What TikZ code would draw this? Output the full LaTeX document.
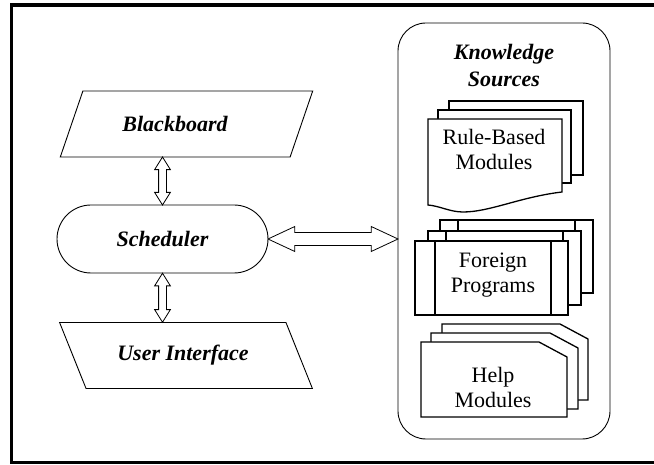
\documentclass[tikz,border=0pt]{standalone}
\usepackage{fontspec}
\setmainfont{Liberation Serif}
\usetikzlibrary{shapes.geometric,shapes.misc,shapes.arrows,calc}

\tikzset{
  flow/.style={draw, line width=0.9pt, font=\bfseries\itshape\fontsize{22}{25}\selectfont},
  slant/.style={flow, trapezium, trapezium stretches=true, minimum width=253pt, minimum height=66pt, inner sep=0pt},
  link/.style={draw, fill=white, line width=0.8pt, double arrow},
  page/.style={draw, fill=white, line width=1.3pt},
  modtext/.style={align=center, font=\fontsize{22}{25}\selectfont}
}

\begin{document}
\begin{tikzpicture}[x=1pt,y=-1pt]
\useasboundingbox (0,0) rectangle (654,465);
\draw[line width=3.5pt] (660,5) -| (11.7,462.5) -- (660,462.5);

% left column
\node[slant, trapezium left angle=48, trapezium right angle=132] (bb) at (186.5,124) {Blackboard\kern23pt};
\node[flow, rounded rectangle, minimum width=211pt, minimum height=68pt, inner sep=0pt] (sch) at (162.5,239) {Scheduler};
\node[slant, trapezium left angle=132, trapezium right angle=48] (ui) at (186,355.5) {User Interface\kern6pt};

% knowledge sources
\node[draw, line width=0.9pt, rounded corners=28pt, minimum width=212pt, minimum height=416pt,
  label={[anchor=north, yshift=-18pt, align=center, font=\bfseries\itshape\fontsize{22}{27}\selectfont]north:Knowledge\\Sources}] (ks) at (504,231) {};

% rule-based modules
\draw[page] (449,101) rectangle (583,175);
\draw[page] (438,110) rectangle (571,183);
\draw[page] (428,119) -- (562,119) -- (562,192) .. controls (520,197) and (490,212) .. (463,212)
  .. controls (450,212) and (440,206) .. (428,205) -- cycle;
\node[modtext] (rbm) at (494,149) {Rule-Based\\Modules};

% foreign programs
\draw[page] (440,220) rectangle (593,293) (458,220) -- (458,293) (575,220) -- (575,293);
\draw[page] (428,231) rectangle (581,305) (446,231) -- (446,305) (563,231) -- (563,305);
\draw[page] (415,241) rectangle (568,315) (435,241) -- (435,315) (551,241) -- (551,315);
\node[modtext] (fp) at (493,275) {Foreign\\Programs};

% help modules
\draw[page] (442,324) -- (560,324) -- (588,339) -- (588,400) -- (442,400) -- cycle;
\draw[page] (431,333) -- (550,333) -- (578,348) -- (578,409) -- (431,409) -- cycle;
\draw[page] (421,342) -- (539,342) -- (567,357) -- (567,417) -- (421,417) -- cycle;
\node[modtext] (hm) at (493,387) {Help\\Modules};

% links
\node[link, rotate=90, minimum height=48pt, minimum width=15pt, inner sep=3.5pt,
  double arrow tip angle=64, double arrow head extend=4pt] (l1) at ($(bb.south -| sch.north)!0.5!(sch.north)$) {};
\node[link, rotate=90, minimum height=49pt, minimum width=15pt, inner sep=3.5pt,
  double arrow tip angle=64, double arrow head extend=4pt] (l2) at ($(sch.south)!0.5!(ui.north -| sch.south)$) {};
\node[link, minimum height=130pt, minimum width=25pt, inner sep=6pt,
  double arrow tip angle=50, double arrow head extend=6pt] (l3) at ($(sch.east)!0.5!(sch.east -| ks.west)$) {};

\end{tikzpicture}
\end{document}
